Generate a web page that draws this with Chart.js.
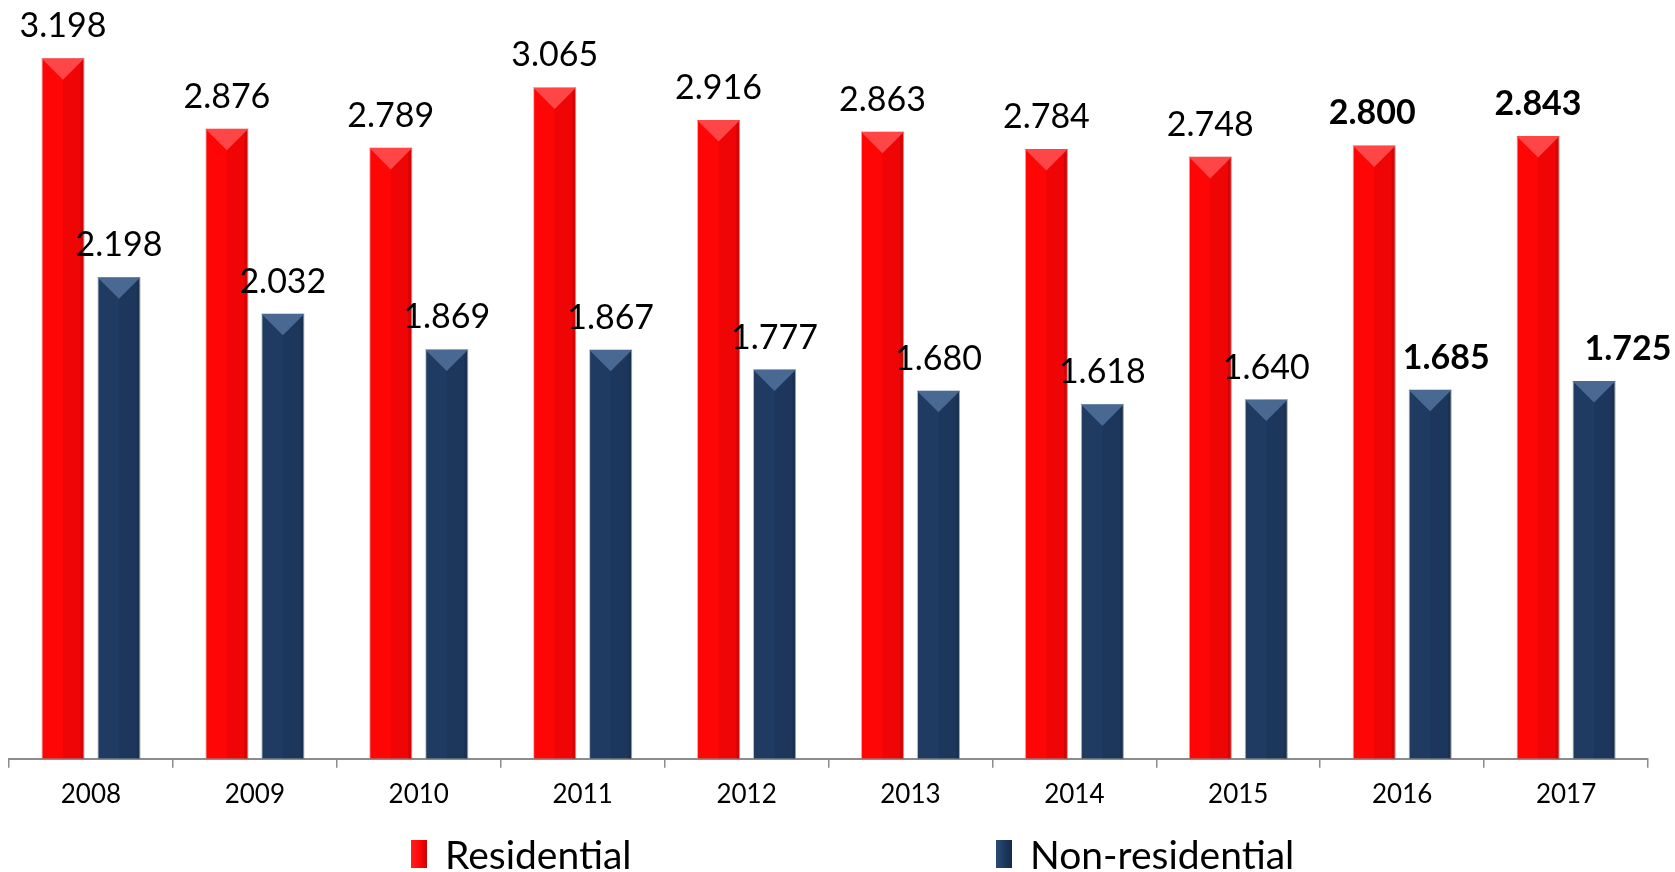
<!DOCTYPE html>
<html>
<head>
<meta charset="utf-8">
<script src="https://cdn.jsdelivr.net/npm/chart.js@4.4.1/dist/chart.umd.min.js"></script>
<style>
  body { margin: 0; background: #fff; }
  #wrap { position: relative; width: 1675px; height: 872px; }
  #legend { position: absolute; left: 411px; top: 838px; display: flex; font-family: Lato, sans-serif; font-size: 39px; line-height: 32px; color: #000; }
  .item { display: flex; align-items: center; width: 585px; }
  .box { width: 16px; height: 28px; margin-right: 18px; }
</style>
</head>
<body>
<div id="wrap">
  <canvas id="myChart"></canvas>
  <div id="legend"></div>
</div>
<script>
const years = ['2008', '2009', '2010', '2011', '2012', '2013', '2014', '2015', '2016', '2017'];
const residential = [3.198, 2.876, 2.789, 3.065, 2.916, 2.863, 2.784, 2.748, 2.800, 2.843];
const nonResidential = [2.198, 2.032, 1.869, 1.867, 1.777, 1.680, 1.618, 1.640, 1.685, 1.725];
const seriesNames = ['Residential', 'Non-residential'];

const fillColors = ['#fe0606', '#1f3b62'];
const bevelColors = ['#ff4646', '#4a6992'];
const boldFrom = 8; // last two years have bold labels

// labels that were moved by hand in the original
const nudge = {0: {8: -2}, 1: {8: 16, 9: 34}};

const barLook = {
    id: 'barLook',
    afterDatasetsDraw(chart) {
        const ctx = chart.ctx;
        chart.data.datasets.forEach((ds, di) => {
            const meta = chart.getDatasetMeta(di);
            meta.data.forEach((bar, i) => {
                const {x, y, base, width} = bar.getProps(['x', 'y', 'base', 'width'], true);
                const l = x - width / 2, r = x + width / 2;
                ctx.save();
                ctx.fillStyle = 'rgba(0,0,0,0.06)';
                ctx.fillRect(x, y, r - x, base - y);
                ctx.fillStyle = 'rgba(0,0,0,0.10)';
                ctx.fillRect(r - 4, y, 4, base - y);
                ctx.beginPath();
                ctx.moveTo(l, y);
                ctx.lineTo(r, y);
                ctx.lineTo(x, y + width / 2);
                ctx.closePath();
                ctx.fillStyle = bevelColors[di];
                ctx.fill();

                ctx.font = (i >= boldFrom ? 'bold ' : '') + '34px Lato';
                ctx.fillStyle = '#000';
                ctx.textAlign = 'center';
                ctx.textBaseline = 'alphabetic';
                const dx = (nudge[di] && nudge[di][i]) || 0;
                ctx.fillText(ds.data[i].toFixed(3), x + dx, y - 21);
                ctx.restore();
            });
        });
    }
};

const ctx = document.getElementById('myChart');

const chart = new Chart(ctx, {
    type: 'bar',
    data: {
        labels: years,
        datasets: [{
            label: seriesNames[0],
            data: residential,
            backgroundColor: fillColors[0],
            borderColor: 'rgba(150,150,150,0.6)',
            borderWidth: 1
        }, {
            label: seriesNames[1],
            data: nonResidential,
            backgroundColor: fillColors[1],
            borderColor: 'rgba(150,150,150,0.6)',
            borderWidth: 1
        }]
    },
    options: {
        responsive: true,
        maintainAspectRatio: false,
        animation: false,
        categoryPercentage: 0.683,
        barPercentage: 0.77,
        layout: { padding: { left: 9, right: 27, top: 14, bottom: 51 } },
        plugins: {
            legend: { display: false },
            tooltip: { enabled: false }
        },
        scales: {
            x: {
                grid: { drawOnChartArea: false, drawTicks: true, tickLength: 9, color: '#8c8c8c', lineWidth: 1.5, offset: true },
                border: { display: true, color: '#8c8c8c', width: 2 },
                ticks: { color: '#000', font: { family: 'Lato', size: 26 }, padding: 11 }
            },
            y: { display: false, min: 0, max: 3.4 }
        }
    },
    plugins: [barLook]
});

// legend built from the datasets
const legendEl = document.getElementById('legend');
const legendBg = [
    'linear-gradient(to right, #ff2020 0%, #ff0a0a 50%, #d00000 100%)',
    'linear-gradient(to right, #2a4a75 0%, #1f3b62 50%, #142a48 100%)'
];
chart.data.datasets.forEach((ds, i) => {
    legendEl.innerHTML += `<div class="item"><span class="box" style="background:${legendBg[i]}"></span><span>${ds.label}</span></div>`;
});
</script>
</body>
</html>
